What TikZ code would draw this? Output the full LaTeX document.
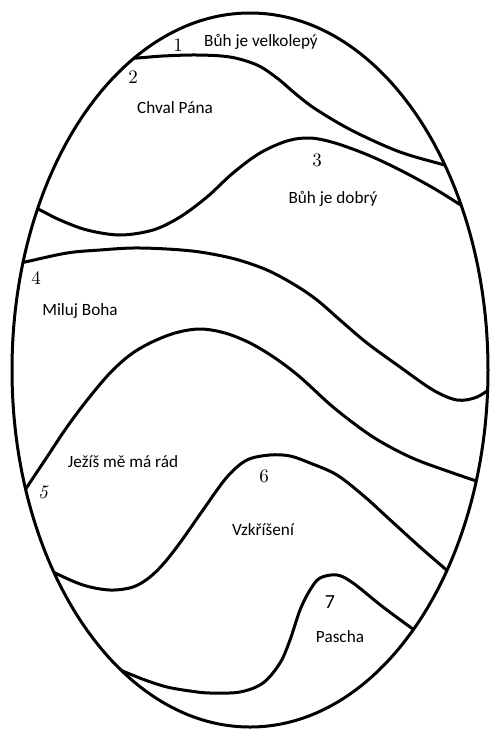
\documentclass[tikz,border=0pt]{standalone}
\usepackage{fontspec}
\newfontfamily\labelfont{Carlito}
\begin{document}
\begin{tikzpicture}[x=0.5pt,y=-0.5pt,
  band/.style={line width=1.5pt, line join=round},
  rim/.style={line width=1.5pt},
  lbl/.style={font=\labelfont\fontsize{8.6}{10}\selectfont, inner sep=0pt},
  num/.style={font=\fontsize{9.5}{11}\selectfont, inner sep=0pt},
  numsans/.style={font=\labelfont\fontsize{10}{12}\selectfont, inner sep=0pt}]
\useasboundingbox (0,0) rectangle (490,729);
\begin{scope}
\clip (250,370) ellipse [x radius=238, y radius=357];
% 1 / 2
\draw[band] plot[smooth,tension=0.55] coordinates {(110,59) (137,58) (163,56) (197,55) (230,57) (257,65) (277,78) (297,95) (317,110) (353,131) (400,152) (448,166) (470,173)};
% 2 / 3
\draw[band] plot[smooth,tension=0.55] coordinates {(25,203) (40,210) (60,220) (87,230) (120,235) (153,230) (180,217) (207,197) (233,173) (260,153) (287,141) (310,138) (335,143) (368,155) (400,170) (435,189) (467,209) (482,218)};
% 3 / 4
\draw[band] plot[smooth,tension=0.55] coordinates {(5,266) (25,262) (67,253) (100,250) (133,248) (167,249) (200,252) (235,259) (267,270) (295,285) (317,300) (340,320) (367,343) (400,367) (433,390) (457,400) (477,397) (495,385)};
% 4 / 5
\draw[band] plot[smooth,tension=0.55] coordinates {(15,505) (27,487) (47,457) (67,427) (88,399) (110,373) (130,355) (150,343) (175,333) (200,329) (225,333) (250,343) (275,358) (300,377) (333,407) (367,433) (392,448) (417,460) (450,472) (482,483) (498,489)};
% 5 / 6
\draw[band] plot[smooth,tension=0.55] coordinates {(35,562) (53,572) (83,585) (110,590) (133,587) (150,577) (165,562) (182,540) (203,510) (227,477) (247,460) (270,455) (290,456) (310,463) (337,475) (365,497) (387,517) (420,547) (450,573) (465,586)};
% 6 / 7
\draw[band] plot[smooth,tension=0.55] coordinates {(100,662) (120,670) (145,680) (167,687) (190,691) (210,693) (240,692) (263,683) (280,663) (290,640) (300,610) (310,590) (320,578) (337,575) (353,583) (383,607) (417,632) (432,642)};
\end{scope}
\draw[rim] (250,370) ellipse [x radius=238, y radius=357];
\node[num] (n1) at (178,45) {1};
\node[lbl] (t1) at (261,42) {Bůh je velkolepý};
\node[num] (n2) at (133,77) {2};
\node[lbl] (t2) at (175,108) {Chval Pána};
\node[num] (n3) at (317,160) {3};
\node[lbl] (t3) at (333,199) {Bůh je dobrý};
\node[num] (n4) at (36,278) {4};
\node[lbl] (t4) at (80,311) {Miluj Boha};
\node[lbl] (t5) at (123,462) {Ježíš mě má rád};
\node[num] (n5) at (43,492) {\itshape 5};
\node[num] (n6) at (264,476) {6};
\node[lbl] (t6) at (263,530) {Vzkříšení};
\node[numsans] (n7) at (330,602) {7};
\node[lbl] (t7) at (340,637) {Pascha};
\end{tikzpicture}
\end{document}
